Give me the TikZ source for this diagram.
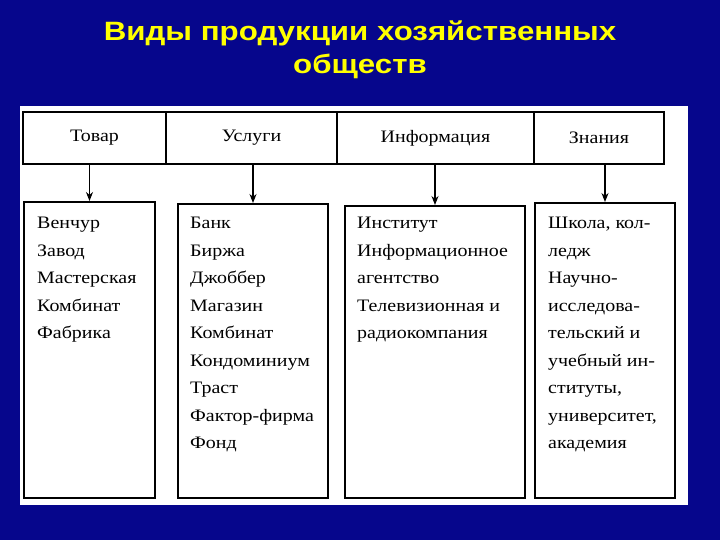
\documentclass[tikz,border=0pt]{standalone}
\usepackage{fontspec}
\setmainfont{Liberation Serif}[FakeStretch=1.14]
\setsansfont{Liberation Sans}[FakeStretch=1.18]
\usepackage{tikz}
\usetikzlibrary{arrows.meta, positioning}

\definecolor{slidebg}{RGB}{6,6,140}
\definecolor{titleyellow}{RGB}{255,255,0}

\begin{document}
\begin{tikzpicture}[
    x=1pt, y=-1pt,
    >=Stealth,
    head/.style={rectangle, draw=black, line width=2pt, minimum height=52pt,
                 inner sep=0pt, font=\fontsize{17.5}{20}\selectfont},
    kind/.style={rectangle, draw=black, line width=2pt, anchor=north west},
    items/.style={anchor=north west, align=left, inner sep=0pt,
                  font=\fontsize{17.5}{27.5}\selectfont},
    link/.style={-{Stealth[length=9pt, width=7pt]}, line width=1.2pt}
]
% slide and panel
\fill[slidebg] (0,0) rectangle (720,540);
\fill[white] (20,106) rectangle (688,505);
\node[font=\sffamily\bfseries\fontsize{26.5}{32.6}\selectfont, text=titleyellow,
      align=center, inner sep=0pt] (title) at (360,50)
      {Виды продукции хозяйственных\\обществ};

% header row
\node[head, minimum width=143pt] (goods) at (94.5,138) {Товар};
\node[head, minimum width=171pt] (services) at (251.5,138) {Услуги};
\node[head, minimum width=197pt] (info) at (435.5,138) {Информация};
\node[head, minimum width=130pt] (knowledge) at (599,138) {Знания};

% lists
\node[kind, minimum width=131pt, minimum height=296pt] (goodslist) at (23,201) {};
\node[kind, minimum width=150pt, minimum height=294pt] (serviceslist) at (177,203) {};
\node[kind, minimum width=180pt, minimum height=292pt] (infolist) at (344,205) {};
\node[kind, minimum width=140pt, minimum height=295pt] (knowledgelist) at (534,202) {};

\node[items] (goodsitems) at ([shift={(14,16)}]goodslist.north west)
    {Венчур\\Завод\\Мастерская\\Комбинат\\Фабрика};
\node[items] (servicesitems) at ([shift={(13,14)}]serviceslist.north west)
    {Банк\\Биржа\\Джоббер\\Магазин\\Комбинат\\Кондоминиум\\Траст\\Фактор-фирма\\Фонд};
\node[items] (infoitems) at ([shift={(13,12)}]infolist.north west)
    {Институт\\Информационное\\агентство\\Телевизионная и\\радиокомпания};
\node[items] (knowledgeitems) at ([shift={(14,15)}]knowledgelist.north west)
    {Школа, кол-\\ледж\\Научно-\\исследова-\\тельский и\\учебный ин-\\ституты,\\университет,\\академия};

\foreach \h/\b in {goods/goodslist, services/serviceslist, info/infolist, knowledge/knowledgelist} {
    \draw[link] (\b.north |- \h.south) -- (\b.north);
}
\end{tikzpicture}
\end{document}
